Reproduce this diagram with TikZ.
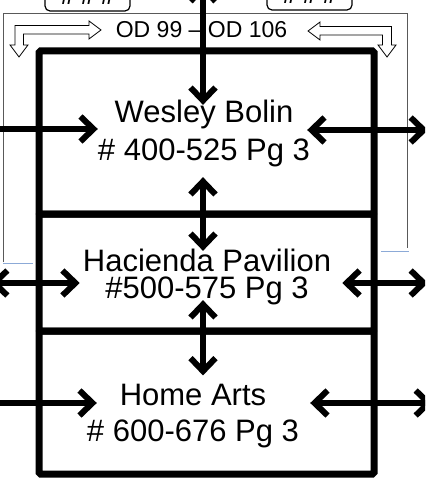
\documentclass[tikz,border=0pt]{standalone}
\usepackage{fontspec}
\setmainfont{Liberation Sans}
\usetikzlibrary{arrows.meta,positioning,calc}
\definecolor{paleblue}{RGB}{140,170,215}

\begin{document}
\begin{tikzpicture}[x=1pt,y=-1pt,
    hall/.style={font=\fontsize{31}{38}\selectfont, align=center, inner sep=0pt},
    wall/.style={line width=7pt, rounded corners=1.5pt},
    frame/.style={black!65, line width=0.8pt},
    oneway/.style={line width=6pt, -{Straight Barb[length=13pt,width=25pt]}},
    twoway/.style={line width=6pt, {Straight Barb[length=13pt,width=25pt]}-{Straight Barb[length=13pt,width=25pt]}},
    hollow/.style={draw=black, fill=white, line width=0.8pt},
    gate/.style={draw=black, line width=1.2pt, rounded corners=5pt}]
    \useasboundingbox (0,0) rectangle (425,481);
    \clip (0,0) rectangle (425,481);

    % thin outer frame
    \draw[frame] (3,262) -- (3,13) -- (407,13) -- (407,248);
    \draw[paleblue, line width=0.8pt] (3,263) -- (33,263);
    \draw[paleblue, line width=0.8pt] (381,251) -- (409,251);

    % gates at the top, cut off
    \draw[gate] (45,11) rectangle (130,-30);
    \draw[gate] (267,10) rectangle (352,-30);
    \node[font=\bfseries\fontsize{24}{24}\selectfont, anchor=base] (gatewest) at (87.5,5) {\# \# \#};
    \node[font=\bfseries\fontsize{24}{24}\selectfont, anchor=base] (gateeast) at (309.5,4) {\# \# \#};

    % hollow bent arrows
    \draw[hollow] (101,30) -- (89,21) -- (89,25.5) -- (15,25.5) -- (15,45) -- (10,45) -- (19,57)
        -- (28,45) -- (23.5,45) -- (23.5,34) -- (89,34) -- (89,39) -- cycle;
    \draw[hollow] (308,31) -- (320,22) -- (320,26.5) -- (391.5,26.5) -- (391.5,45) -- (396,45) -- (387,57)
        -- (378,45) -- (382.5,45) -- (382.5,35) -- (320,35) -- (320,40) -- cycle;
    \node[font=\fontsize{23}{27}\selectfont] (od) at (201.5,30) {OD 99 -- OD 106};

    % the three halls
    \draw[wall] (39,51) rectangle (374,214);
    \draw[wall] (39,214) rectangle (374,331);
    \draw[wall] (39,331) rectangle (374,474);
    \node[hall] (wesley) at (204,133) {Wesley Bolin\\\# 400-525 Pg 3};
    \node[hall, font=\fontsize{31}{27}\selectfont] (hacienda) at (207,277) {Hacienda Pavilion\\\#500-575 Pg 3};
    \node[hall, font=\fontsize{31}{36}\selectfont] (homearts) at (193,416) {Home Arts\\\# 600-676 Pg 3};

    \coordinate (westedge) at (0,0);
    \coordinate (farwest) at (-10,0);
    \coordinate (eastedge) at (428,0);
    \coordinate (fareast) at (433,0);
    \coordinate (entry) at (203,-16);

    % ways in and out
    \draw[twoway] (entry) -- ($(entry |- wesley.north)+(0,5.5)$);
    \draw[oneway] ($(wesley.west -| westedge)+(0,-4)$) -- ($(wesley.west)+(0,-4)$);
    \draw[twoway] ($(wesley.east)+(-3,-3)$) -- ($(wesley.east -| eastedge)+(0,-3)$);
    \draw[twoway] ($(hacienda.west -| farwest)+(0,6)$) -- ($(hacienda.west)+(-3,6)$);
    \draw[twoway] ($(hacienda.east)+(11,6)$) -- ($(hacienda.east -| eastedge)+(0,6)$);
    \draw[oneway] ($(homearts.west -| westedge)+(0,-13)$) -- ($(homearts.west)+(10,-13)$);
    \draw[twoway] ($(homearts.east)+(11,-13)$) -- ($(homearts.east -| fareast)+(0,-13)$);

    % between the halls
    \draw[twoway] ($(entry |- wesley.south)+(0,10.5)$) -- ($(entry |- hacienda.north)+(0,2)$);
    \draw[twoway] ($(entry |- hacienda.south)+(0,-5)$) -- ($(entry |- homearts.north)+(0,-8.5)$);
\end{tikzpicture}
\end{document}
